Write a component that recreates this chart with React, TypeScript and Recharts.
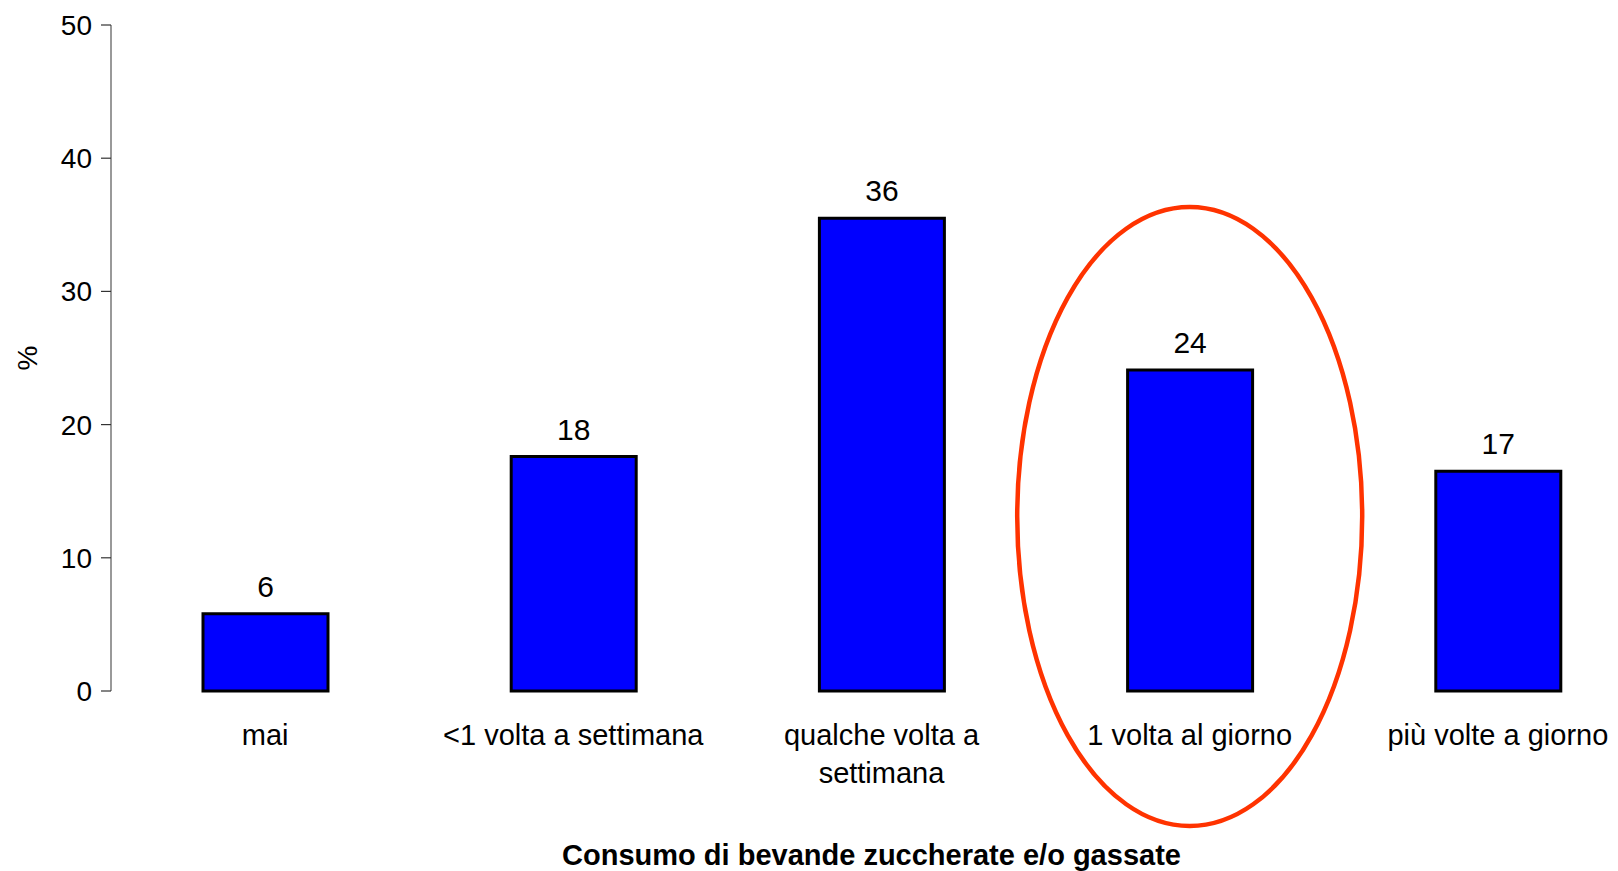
import React from 'react';
import { BarChart, Bar, XAxis, YAxis, LabelList, Label, ReferenceDot } from 'recharts';

const categories = ['mai', '<1 volta a settimana', 'qualche volta a settimana', '1 volta al giorno', 'più volte a giorno'];
const values = [5.8, 17.6, 35.5, 24.1, 16.5];
const yTicks = [0, 10, 20, 30, 40, 50];
const xTickLines: string[][] = [
  ['mai'],
  ['<1 volta a settimana'],
  ['qualche volta a', 'settimana'],
  ['1 volta al giorno'],
  ['più volte a giorno'],
];
const highlighted = '1 volta al giorno';
const highlightCenterValue = 13.1;

const data = categories.map((c, i) => ({ name: c, value: values[i] }));

const FONT = '"Liberation Sans", Arial, Helvetica, sans-serif';

const XTick = (props: any) => {
  const { x, y, payload } = props;
  const idx = categories.indexOf(payload.value);
  const lines = idx >= 0 ? xTickLines[idx] : [String(payload.value)];
  return (
    <text x={x} y={y + 54} textAnchor="middle" fontSize={29} fontFamily={FONT} fill="#000">
      {lines.map((l, i) => (
        <tspan key={i} x={x} dy={i === 0 ? 0 : 38}>
          {l}
        </tspan>
      ))}
    </text>
  );
};

const EllipseShape = (props: any) => {
  const { cx, cy } = props;
  return <ellipse cx={cx} cy={cy} rx={172.5} ry={309.5} fill="none" stroke="#ff3300" strokeWidth={4.5} />;
};

export default function App() {
  return (
    <div style={{ position: 'absolute', left: 0, top: 0, width: 1618, height: 871, overflow: 'hidden', background: '#fff' }}>
      <BarChart
        width={1652}
        height={871}
        data={data}
        margin={{ top: 25, right: 0, bottom: 0, left: 0 }}
        style={{ fontFamily: FONT }}
      >
        <XAxis
          dataKey="name"
          type="category"
          axisLine={false}
          tickLine={false}
          tickSize={0}
          tickMargin={0}
          height={180}
          interval={0}
          tick={<XTick />}
        >
          <Label
            value="Consumo di bevande zuccherate e/o gassate"
            position="insideBottom"
            offset={6}
            dx={-10}
            fontSize={29}
            fontWeight="bold"
            fill="#000"
            fontFamily={FONT}
          />
        </XAxis>
        <YAxis
          type="number"
          domain={[0, 50]}
          ticks={yTicks}
          interval={0}
          width={111}
          tickSize={10}
          tickMargin={9}
          axisLine={{ stroke: '#555', strokeWidth: 1.2 }}
          tickLine={{ stroke: '#333', strokeWidth: 1.2 }}
          tick={{ fontSize: 28, fill: '#000', fontFamily: FONT }}
        >
          <Label
            value="%"
            angle={-90}
            position="insideLeft"
            content={(p: any) => {
              const vb = p.viewBox || {};
              const cy = (vb.y || 0) + (vb.height || 0) / 2;
              const cx = (vb.x || 0) + 27;
              return (
                <text
                  x={cx}
                  y={cy}
                  transform={`rotate(-90 ${cx} ${cy})`}
                  textAnchor="middle"
                  dominantBaseline="central"
                  fontSize={28}
                  fontFamily={FONT}
                  fill="#000"
                >
                  %
                </text>
              );
            }}
          />
        </YAxis>
        <Bar dataKey="value" fill="#0000ff" stroke="#000" strokeWidth={3} barSize={125} isAnimationActive={false}>
          <LabelList
            dataKey="value"
            position="top"
            offset={17}
            formatter={(v: any) => Math.round(Number(v))}
            fontSize={30}
            fill="#000"
            fontFamily={FONT}
          />
        </Bar>
        <ReferenceDot
          x={highlighted}
          y={highlightCenterValue}
          ifOverflow="visible"
          shape={<EllipseShape />}
        />
      </BarChart>
    </div>
  );
}
